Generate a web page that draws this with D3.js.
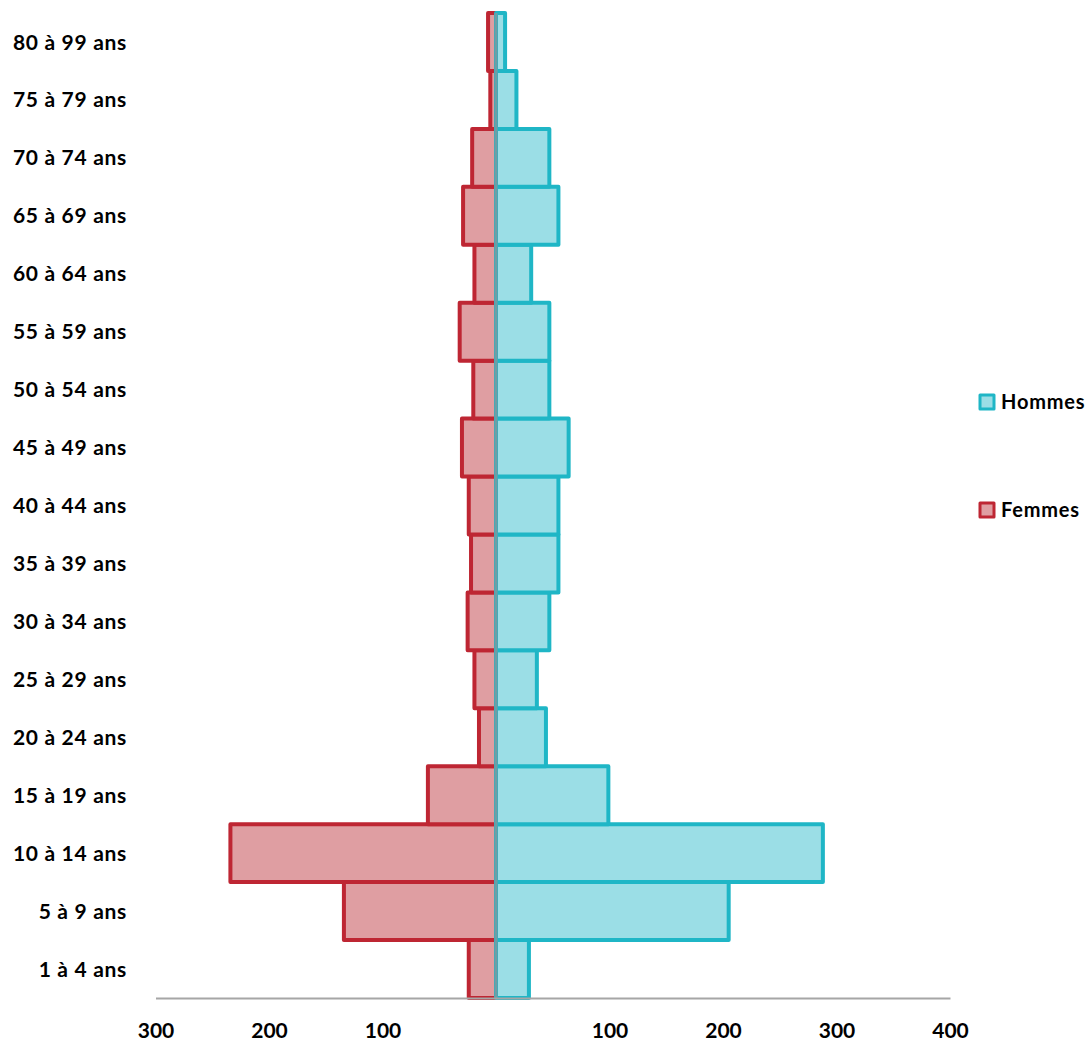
<!DOCTYPE html>
<html>
<head>
<meta charset="utf-8">
<script src="https://cdn.jsdelivr.net/npm/d3@7"></script>
<style>
  body { margin: 0; background: #fff; }
  text { font-family: Lato, "Open Sans", sans-serif; font-weight: bold; fill: #000; }
</style>
</head>
<body>
<div id="chart"></div>
<script>
// age groups, bottom to top
var ages = ["1 à 4 ans", "5 à 9 ans", "10 à 14 ans", "15 à 19 ans", "20 à 24 ans",
            "25 à 29 ans", "30 à 34 ans", "35 à 39 ans", "40 à 44 ans", "45 à 49 ans",
            "50 à 54 ans", "55 à 59 ans", "60 à 64 ans", "65 à 69 ans", "70 à 74 ans",
            "75 à 79 ans", "80 à 99 ans"];
var hommes = [29, 205, 288, 99, 44, 36, 47, 55, 55, 64, 47, 47, 31, 55, 47, 18, 8];
var femmes = [24, 134, 234, 60, 15, 19, 25, 22, 24, 30, 20, 32, 19, 29, 21, 5, 7];
var xTicks = [-300, -200, -100, 0, 100, 200, 300, 400];
var legendNames = ["Hommes", "Femmes"];

var W = 1091, H = 1042;
var svg = d3.select("#chart").append("svg")
    .attr("width", W)
    .attr("height", H);

var x = d3.scaleLinear().domain([-300, 400]).range([155.5, 950]);
var y = d3.scaleBand().domain(ages.slice().reverse()).range([13, 998]).paddingInner(0);

var rows = ages.map(function(a, i) { return {age: a, h: hommes[i], f: femmes[i]}; });

// femmes bars (left)
svg.append("g").selectAll("rect")
  .data(rows)
  .enter().append("rect")
    .attr("x", function(d) { return x(-d.f); })
    .attr("y", function(d) { return y(d.age); })
    .attr("width", function(d) { return x(0) - x(-d.f); })
    .attr("height", y.bandwidth())
    .attr("fill", "#df9ea2")
    .attr("stroke", "#be2633")
    .attr("stroke-width", 4)
    .attr("stroke-linejoin", "round");

// hommes bars (right)
svg.append("g").selectAll("rect")
  .data(rows)
  .enter().append("rect")
    .attr("x", x(0))
    .attr("y", function(d) { return y(d.age); })
    .attr("width", function(d) { return x(d.h) - x(0); })
    .attr("height", y.bandwidth())
    .attr("fill", "#9bdee6")
    .attr("stroke", "#1fb6c6")
    .attr("stroke-width", 4)
    .attr("stroke-linejoin", "round");

// vertical zero line
svg.append("line")
    .attr("x1", x(0)).attr("x2", x(0))
    .attr("y1", 13).attr("y2", 998)
    .attr("stroke", "#6f9da5")
    .attr("stroke-width", 3);

// x axis
var xAxis = svg.append("g")
    .attr("transform", "translate(0,998)")
    .call(d3.axisBottom(x)
      .tickValues(xTicks)
      .tickSize(0)
      .tickPadding(25)
      .tickFormat(function(d) { return d === 0 ? "" : Math.abs(d); }));
xAxis.select(".domain").attr("stroke", "#a6a6a6").attr("stroke-width", 2);
xAxis.selectAll("text")
    .style("font-size", "21px")
    .style("font-family", "Lato, 'Open Sans', sans-serif")
    .style("font-weight", "bold")
    .attr("fill", "#000");

// y labels
svg.append("g").selectAll("text")
  .data(ages)
  .enter().append("text")
    .attr("x", 127)
    .attr("y", function(d) { return y(d) + y.bandwidth() / 2; })
    .attr("dy", "0.36em")
    .attr("text-anchor", "end")
    .style("font-size", "21px")
    .style("letter-spacing", "0.7px")
    .text(function(d) { return d; });

// legend
var legendY = [402, 510];
var legendFill = ["#9bdee6", "#df9ea2"];
var legendStroke = ["#1fb6c6", "#be2633"];
var leg = svg.append("g").selectAll("g")
  .data(legendNames)
  .enter().append("g")
    .attr("transform", function(d, i) { return "translate(980," + legendY[i] + ")"; });
leg.append("rect")
    .attr("x", 0).attr("y", -7)
    .attr("width", 14).attr("height", 14)
    .attr("fill", function(d, i) { return legendFill[i]; })
    .attr("stroke", function(d, i) { return legendStroke[i]; })
    .attr("stroke-width", 3)
    .attr("stroke-linejoin", "round");
leg.append("text")
    .attr("x", 21)
    .attr("dy", "0.36em")
    .style("font-size", "20px")
    .style("letter-spacing", "0.8px")
    .text(function(d) { return d; });
</script>
</body>
</html>
